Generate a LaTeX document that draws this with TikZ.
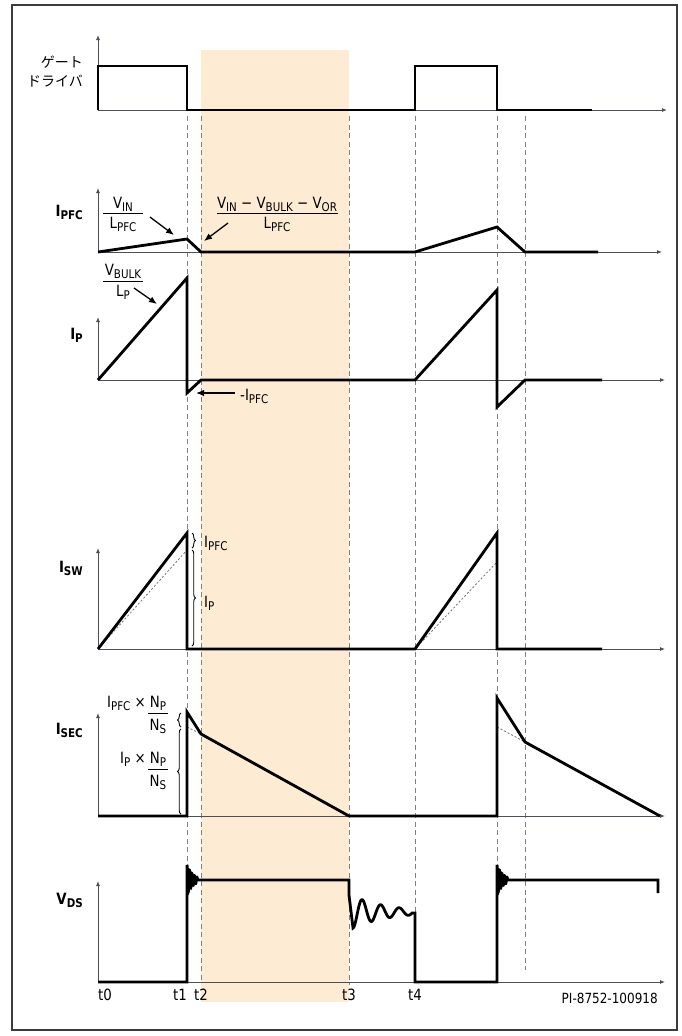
\documentclass[tikz,border=0pt]{standalone}
\usepackage{fontspec}
\setmainfont{DejaVu Sans}[FakeStretch=0.86]
\newfontfamily\jpfont{Noto Sans CJK JP}
\usetikzlibrary{arrows.meta,decorations.pathreplacing}
\definecolor{shadecol}{RGB}{253,235,212}
\definecolor{axiscol}{RGB}{75,80,88}
\definecolor{framecol}{RGB}{60,60,60}
\newcommand\sbs[1]{\raisebox{-3.6pt}{\fontsize{12}{14}\selectfont #1}}
\begin{document}
\begin{tikzpicture}[x=1pt,y=-1pt,
  wave/.style={line width=2.8pt,line join=miter},
  axis/.style={draw=axiscol,line width=0.9pt,-{Latex[length=5pt,width=4pt]}},
  tline/.style={draw=black!50,line width=0.9pt,dash pattern=on 5pt off 3.5pt},
  helper/.style={draw=black!55,line width=0.8pt,dash pattern=on 2pt off 2pt},
  note/.style={line width=1.3pt,-{Latex[length=8pt,width=6.5pt]}},
  brc/.style={decorate,decoration={brace,amplitude=3.5pt},line width=0.9pt},
  txt/.style={inner sep=0pt,font=\fontsize{15.5}{18}\selectfont},
  axlbl/.style={inner sep=0pt,anchor=base east,font=\fontsize{15.5}{18}\selectfont\bfseries},
  jp/.style={inner sep=0pt,anchor=east,font=\fontsize{14}{16}\selectfont\jpfont},
  bar/.style={line width=0.9pt}]

\useasboundingbox (0,0) rectangle (681,1036);
\fill[white] (0,0) rectangle (681,1036);
\fill[shadecol] (201,50) rectangle (349,1002);
\draw[framecol,line width=2.4pt] (12,5) rectangle (677,1030);

% time markers
\foreach \t/\e in {187/982,201/982,349/985,415/982,497/982,525/970}
  \draw[tline] (\t,116) -- (\t,\e);

% ---------- gate driver ----------
\node[jp] (g1) at (83,62) {ゲート};
\node[jp] (g2) at (83,81) {ドライバ};
\draw[axis] (98,110) -- (667,110);
\draw[axis] (98,110) -- (98,35);
\draw[wave] (98,110) -- (98,66) -- (187,66) -- (187,110) -- (415,110) -- (415,66) -- (497,66) -- (497,110) -- (592,110);

% ---------- I_PFC ----------
\node[axlbl] (lpfc) at (83,216) {I\sbs{PFC}};
\draw[axis] (98,252) -- (662,252);
\draw[axis] (98,252) -- (98,188);
\draw[wave] (98,252) -- (187,239) -- (201,252) -- (415,252) -- (497,227) -- (525,252) -- (598,252);

\node[txt,anchor=base] (f1n) at (123,208) {V\sbs{IN}};
\node[txt,anchor=base] (f1d) at (123,228) {L\sbs{PFC}};
\draw[bar] (103,213) -- (143,213);
\coordinate (a1s) at (150,217); \coordinate (a1e) at (174,235);
\draw[note] (a1s) -- (a1e);

\node[txt,anchor=base] (f2n) at (277,208) {V\sbs{IN} − V\sbs{BULK} − V\sbs{OR}};
\node[txt,anchor=base] (f2d) at (277,228) {L\sbs{PFC}};
\draw[bar] (217,213) -- (338,213);
\coordinate (a2s) at (228,223); \coordinate (a2e) at (204,241);
\draw[note] (a2s) -- (a2e);

% ---------- I_P ----------
\node[axlbl] (lp) at (83,339) {I\sbs{P}};
\draw[axis] (98,380) -- (665,380);
\draw[axis] (98,380) -- (98,317);
\draw[wave] (98,380) -- (187,278) -- (187,393) -- (201,380) -- (415,380) -- (497,290) -- (497,407) -- (525,380) -- (602,380);

\node[txt,anchor=base] (f3n) at (123,275) {V\sbs{BULK}};
\node[txt,anchor=base] (f3d) at (123,296) {L\sbs{P}};
\draw[bar] (103,281) -- (143,281);
\coordinate (a3s) at (134,288); \coordinate (a3e) at (157,304);
\draw[note] (a3s) -- (a3e);

\node[txt,anchor=base west] (mipfc) at (240,400) {-I\sbs{PFC}};
\coordinate (a4s) at (235,393); \coordinate (a4e) at (196,393);
\draw[note] (a4s) -- (a4e);

% ---------- I_SW ----------
\node[axlbl] (lsw) at (83,572) {I\sbs{SW}};
\draw[axis] (98,649) -- (665,649);
\draw[axis] (98,649) -- (98,548);
\draw[helper] (98,649) -- (187,550);
\draw[helper] (415,649) -- (497,562);
\draw[wave] (98,649) -- (187,533) -- (187,649) -- (415,649) -- (497,533) -- (497,649) -- (602,649);
\draw[brc] (192,533) -- (192,548);
\draw[brc] (192,550) -- (192,646);
\node[txt,anchor=base west] (swpfc) at (204,547) {I\sbs{PFC}};
\node[txt,anchor=base west] (swp) at (204,607) {I\sbs{P}};

% ---------- I_SEC ----------
\node[axlbl] (lsec) at (83,734) {I\sbs{SEC}};
\draw[axis] (98,816) -- (665,816);
\draw[axis] (98,816) -- (98,713);
\draw[helper] (187,727) -- (201,734);
\draw[helper] (497,727) -- (525,742);
\draw[wave] (98,816) -- (187,816) -- (187,712) -- (201,734) -- (349,816) -- (497,816) -- (497,698) -- (525,742) -- (660,816);
\draw[brc] (181,727) -- (181,713);
\draw[brc] (181,814) -- (181,729);

\node[txt,anchor=base east] (s1a) at (146,707) {I\sbs{PFC} ×};
\node[txt,anchor=base] (s1n) at (158,707) {N\sbs{P}};
\draw[bar] (148,713) -- (168,713);
\node[txt,anchor=base] (s1d) at (158,730) {N\sbs{S}};

\node[txt,anchor=base east] (s2a) at (146,763) {I\sbs{P} ×};
\node[txt,anchor=base] (s2n) at (158,763) {N\sbs{P}};
\draw[bar] (148,769) -- (168,769);
\node[txt,anchor=base] (s2d) at (158,786) {N\sbs{S}};

% ---------- V_DS ----------
\node[axlbl] (lds) at (83,904) {V\sbs{DS}};
\draw[axis] (98,982) -- (665,982);
\draw[axis] (98,982) -- (98,881);
\draw[wave] (98,982) -- (187,982) -- (187,866)
  -- plot[domain=0:10.625,samples=200] ({187+\x},{880-15*exp(-\x/6)*cos(\x*144)})
  -- (349,880) -- (349,895)
  -- plot[domain=0:59,samples=150] ({353+\x},{912+16*exp(-\x/35)*cos(\x*19.46)})
  -- (415,913) -- (415,982) -- (497,982) -- (497,866)
  -- plot[domain=0:10.625,samples=200] ({497+\x},{880-15*exp(-\x/6)*cos(\x*144)})
  -- (658,880) -- (658,893);

% ---------- time labels ----------
\node[txt,anchor=base] (t0) at (105,1000) {t0};
\node[txt,anchor=base] (t1) at (180,1000) {t1};
\node[txt,anchor=base] (t2) at (201,1000) {t2};
\node[txt,anchor=base] (t3) at (349,1000) {t3};
\node[txt,anchor=base] (t4) at (415,1000) {t4};
\node[inner sep=0pt,anchor=base east,font=\fontsize{14}{16}\selectfont] (pi) at (658,1003) {PI-8752-100918};
\end{tikzpicture}
\end{document}
